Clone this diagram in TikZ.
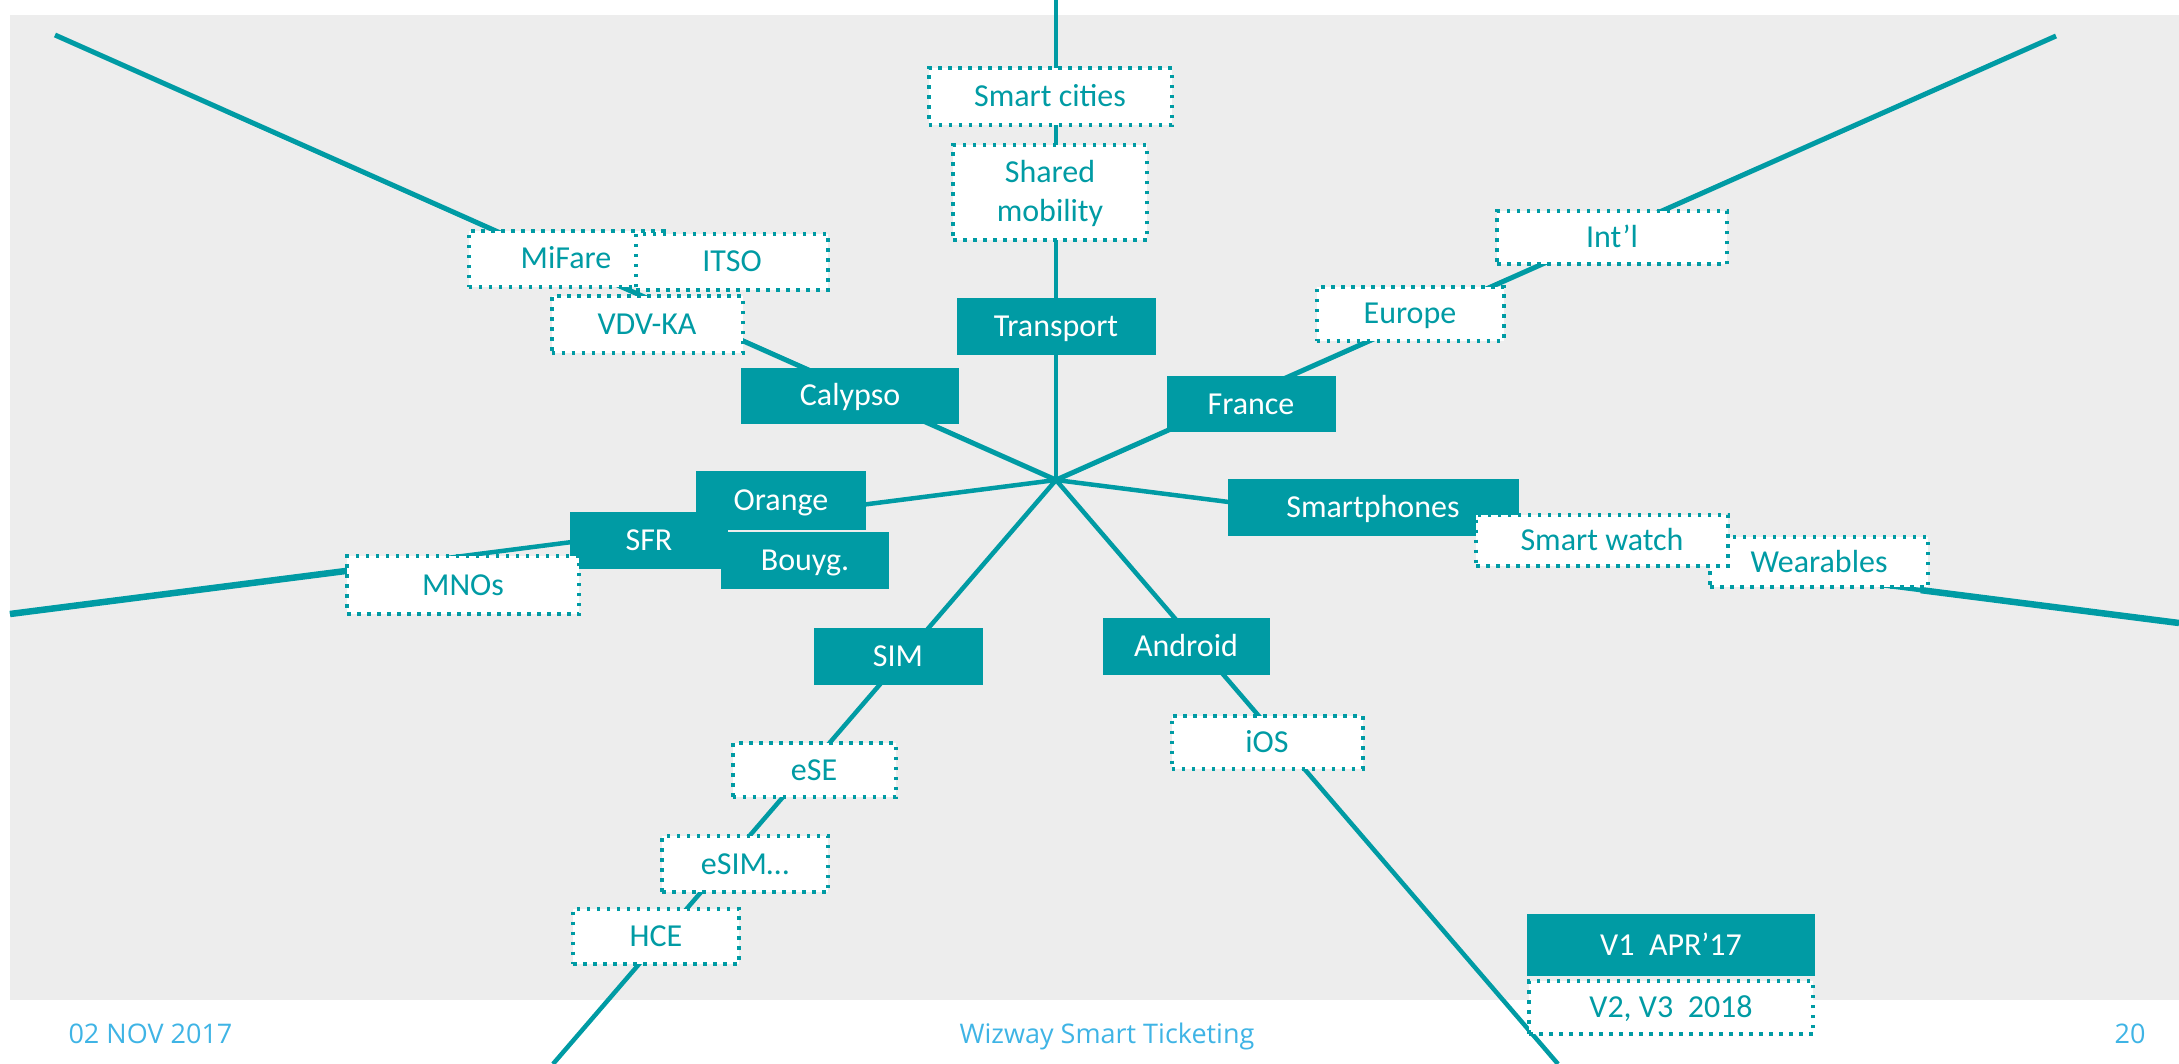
\documentclass[tikz,border=0pt]{standalone}
\usepackage{fontspec}
\setmainfont{Carlito}
\newfontfamily\footfont{Open Sans}
\usetikzlibrary{positioning,calc}
\definecolor{wzteal}{HTML}{009BA4}
\definecolor{wzgray}{HTML}{EDEDED}
\definecolor{wzblue}{HTML}{3FB4E5}
\pgfdeclarelayer{bg}
\pgfsetlayers{bg,main}

\begin{document}
\begin{tikzpicture}[x=1pt,y=-1pt,
  fullbox/.style={fill=wzteal,text=white,inner sep=0pt,text height=23pt,text depth=3pt,
    font=\fontsize{32}{39}\selectfont},
  dotbox/.style={fill=white,draw=wzteal,line width=4pt,dash pattern=on 3.5pt off 6.5pt,
    text=wzteal,inner sep=0pt,text height=23pt,text depth=3pt,font=\fontsize{32}{39}\selectfont},
  spoke/.style={draw=wzteal,line width=4.5pt},
  foot/.style={text=wzblue,font=\footfont\fontsize{27}{32}\selectfont}]
\useasboundingbox (0,0) rectangle (2179,1064);

\coordinate (hub) at (1056,480);
\coordinate (top) at (1056,0);
\coordinate (nw) at (55,35);
\coordinate (ne) at (2056,36);
\coordinate (w) at (10,614);
\coordinate (e) at (2179,623);
\coordinate (sw) at (553,1064);
\coordinate (se) at (1558,1064);

\node[dotbox,minimum width=243pt,minimum height=57pt] (smartc) at (1050,97) {Smart cities};
\node[dotbox,text height={},text depth={},minimum width=194pt,minimum height=95pt,align=center,below=16pt of smartc] (shared) {Shared\\mobility};
\node[fullbox,minimum width=199pt,minimum height=57pt] (transport) at (1056,327) {Transport};

\node[dotbox,minimum width=195pt,minimum height=56pt] (mifare) at (566,259) {MiFare};
\node[dotbox,minimum width=192pt,minimum height=56pt] (itso) at (732,262) {ITSO};
\node[dotbox,minimum width=191pt,minimum height=57pt] (vdv) at (647,325) {VDV-KA};
\node[fullbox,minimum width=218pt,minimum height=56pt] (calypso) at (850,396) {Calypso};

\node[dotbox,minimum width=230pt,minimum height=53pt] (intl) at (1612,238) {Int’l};
\node[dotbox,minimum width=187pt,minimum height=54pt] (europe) at (1410,314) {Europe};
\node[fullbox,minimum width=169pt,minimum height=55pt] (france) at (1251,404) {France};

\node[fullbox,minimum width=291pt,minimum height=57pt] (smartph) at (1373,507) {Smartphones};
\node[dotbox,minimum width=218pt,minimum height=50pt] (wear) at (1819,562) {Wearables};
\node[dotbox,minimum width=252pt,minimum height=51pt] (swatch) at (1602,540) {Smart watch};

\node[fullbox,minimum width=170pt,minimum height=59pt] (orange) at (781,500) {Orange};
\node[fullbox,minimum width=158pt,minimum height=57pt] (sfr) at (649,540) {SFR};
\node[fullbox,minimum width=168pt,minimum height=57pt] (bouyg) at (805,560) {Bouyg.};
\node[dotbox,minimum width=232pt,minimum height=58pt] (mnos) at (463,585) {MNOs};

\node[fullbox,minimum width=169pt,minimum height=57pt] (sim) at (898,656) {SIM};
\node[dotbox,minimum width=163pt,minimum height=54pt] (ese) at (814,770) {eSE};
\node[dotbox,minimum width=166pt,minimum height=56pt] (esim) at (745,864) {eSIM…};
\node[dotbox,minimum width=166pt,minimum height=55pt] (hce) at (656,936) {HCE};

\node[fullbox,minimum width=167pt,minimum height=57pt] (android) at (1186,646) {Android};
\node[dotbox,minimum width=191pt,minimum height=53pt] (ios) at (1267,742) {iOS};

\node[fullbox,minimum width=288pt,minimum height=62pt] (v1) at (1671,945) {V1~~APR’17};
\node[dotbox,minimum width=284pt,minimum height=53pt,below=3pt of v1] (v2) {V2, V3~~2018};

\node[foot,anchor=base west] (date) at (65,1043) {02 NOV 2017};
\node[foot,anchor=base] (title) at (1107,1043) {Wizway Smart Ticketing};
\node[foot,anchor=base] (page) at (2130,1043) {20};

\begin{pgfonlayer}{bg}
\fill[wzgray] (10,15) rectangle (2179,1000);
\draw[spoke] (hub) -- (top);
\draw[spoke,line width=5pt] (hub) -- (nw);
\draw[spoke,line width=5pt] (hub) -- (ne);
\draw[spoke] (hub) -- (w);
\draw[spoke,line width=6.5pt] ($(hub)!.66!(w)$) -- (w);
\draw[spoke] (hub) -- (e);
\draw[spoke,line width=6.5pt] ($(hub)!.77!(e)$) -- (e);
\draw[spoke] (hub) -- (sw);
\draw[spoke] (hub) -- (se);
\end{pgfonlayer}
\end{tikzpicture}
\end{document}
